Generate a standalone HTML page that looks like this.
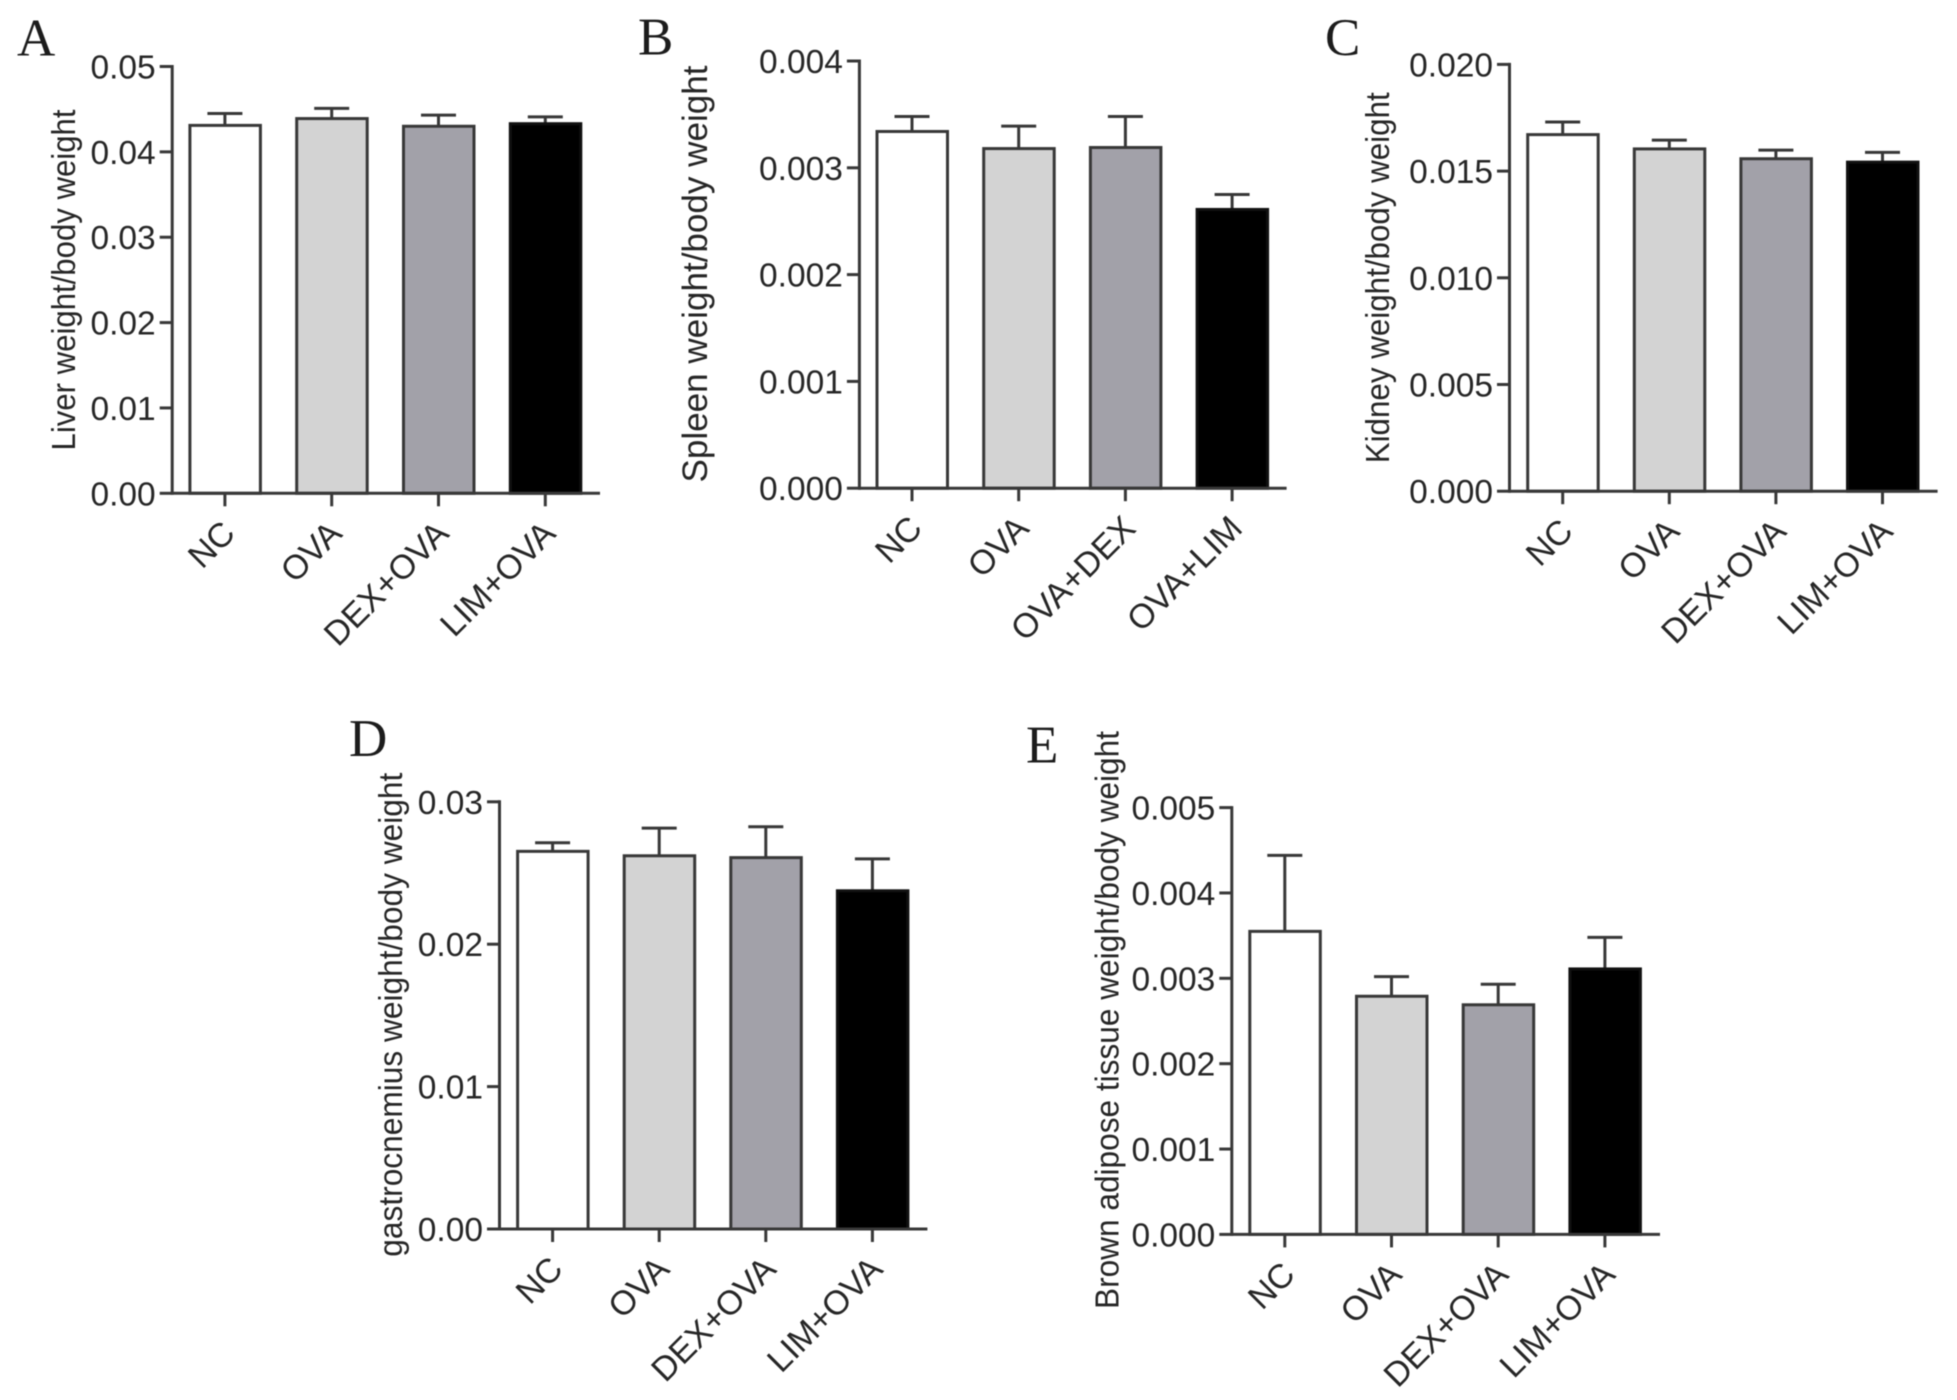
<!DOCTYPE html>
<html lang="en">
<head>
<meta charset="utf-8">
<title>Organ weight to body weight ratios</title>
<style>
  html, body { margin: 0; padding: 0; background: #fff; }
  #figure { display: block; width: 1957px; height: 1400px; filter: blur(0.6px); }
  text { font-family: "Liberation Sans", sans-serif; fill: #262626; }
  .panel-letter { font-family: "Liberation Serif", serif; fill: #1c1c1c; font-size: 53px; }
</style>
</head>
<body>
<svg id="figure" xmlns="http://www.w3.org/2000/svg" width="1957" height="1400" viewBox="0 0 1957 1400"></svg>
<script>
const categoriesDexFirst = ["NC", "OVA", "DEX+OVA", "LIM+OVA"];
const categoriesOvaFirst = ["NC", "OVA", "OVA+DEX", "OVA+LIM"];

const liverMeans = [0.0431, 0.0439, 0.0430, 0.0433];
const liverErrors = [0.0014, 0.0012, 0.0013, 0.0008];
const liverTicks = ["0.00", "0.01", "0.02", "0.03", "0.04", "0.05"];

const spleenMeans = [0.00334, 0.00318, 0.00319, 0.00261];
const spleenErrors = [0.00014, 0.00021, 0.00029, 0.00014];
const spleenTicks = ["0.000", "0.001", "0.002", "0.003", "0.004"];

const kidneyMeans = [0.01671, 0.01604, 0.01558, 0.01542];
const kidneyErrors = [0.00059, 0.00041, 0.00040, 0.00046];
const kidneyTicks = ["0.000", "0.005", "0.010", "0.015", "0.020"];

const gastrocMeans = [0.02652, 0.02621, 0.02608, 0.02375];
const gastrocErrors = [0.00060, 0.00194, 0.00217, 0.00224];
const gastrocTicks = ["0.00", "0.01", "0.02", "0.03"];

const brownMeans = [0.00355, 0.00279, 0.00269, 0.00311];
const brownErrors = [0.00089, 0.00023, 0.00024, 0.00037];
const brownTicks = ["0.000", "0.001", "0.002", "0.003", "0.004", "0.005"];

const barFills = ["#ffffff", "#d3d3d3", "#a2a1a9", "#000000"];

const svg = document.getElementById("figure");
const NS = "http://www.w3.org/2000/svg";
const INK = "#383838";

function shape(tag, attrs, parent) {
  const el = document.createElementNS(NS, tag);
  for (const k in attrs) el.setAttribute(k, attrs[k]);
  parent.appendChild(el);
  return el;
}

function drawPanel(p) {
  const g = shape("g", {}, svg);
  
  

  const yMax = parseFloat(p.ticks[p.ticks.length - 1]);
  const yScale = v => p.base - (v / yMax) * (p.base - p.top);
  const xScale = i => p.firstX + i * p.stepX;

  const letter = shape("text", { x: p.letterX, y: p.letterY, class: "panel-letter" }, g);
  letter.textContent = p.letter;
  
  

  const title = shape("text", {
    transform: "translate(" + p.titleX + "," + p.titleY + ") rotate(-90)",
    "text-anchor": "middle",
    "font-size": p.titleSize,
    textLength: p.titleLength,
    lengthAdjust: "spacingAndGlyphs"
  }, g);
  title.textContent = p.title;
  
  

  p.means.forEach((m, i) => {
    const cx = xScale(i);
    const topY = yScale(m + p.errors[i]);
    const stem = shape("line", { x1: cx, x2: cx, y1: yScale(m), y2: topY, stroke: INK, "stroke-width": 3 }, g);
    
    
    const cap = shape("line", { x1: cx - 17.5, x2: cx + 17.5, y1: topY, y2: topY, stroke: INK, "stroke-width": 3 }, g);
    
    
    const bar = shape("rect", {
      x: cx - 35, y: yScale(m), width: 70.5, height: p.base - yScale(m),
      fill: barFills[i], stroke: i === 3 ? "#111" : INK, "stroke-width": 3
    }, g);
    
    
  });

  const yAxis = shape("line", { x1: p.axisX, x2: p.axisX, y1: p.top - 1.5, y2: p.base + 1.5, stroke: INK, "stroke-width": 3 }, g);
  
  
  const xAxis = shape("line", { x1: p.axisX, x2: p.endX, y1: p.base, y2: p.base, stroke: INK, "stroke-width": 3 }, g);
  
  

  p.ticks.forEach(label => {
    const y = yScale(parseFloat(label));
    const tick = shape("line", { x1: p.axisX - 12.5, x2: p.axisX, y1: y, y2: y, stroke: INK, "stroke-width": 3 }, g);
    
    
    const text = shape("text", { x: p.axisX - 16.5, y: y + 12, "text-anchor": "end", "font-size": 33.5 }, g);
    text.textContent = label;
    
    
  });

  p.categories.forEach((label, i) => {
    const x = xScale(i);
    const tick = shape("line", { x1: x, x2: x, y1: p.base, y2: p.base + 13, stroke: INK, "stroke-width": 3 }, g);
    
    
    const text = shape("text", {
      transform: "translate(" + (x + 12) + "," + (p.base + 42) + ") rotate(-45)",
      "text-anchor": "end",
      "font-size": 34
    }, g);
    text.textContent = label;
    
    
  });
}

drawPanel({
  letter: "A", letterX: 17, letterY: 55.5,
  title: "Liver weight/body weight", titleX: 75, titleY: 280, titleSize: 33, titleLength: 341,
  axisX: 172.2, endX: 600, top: 66.5, base: 493.3, firstX: 224.9, stepX: 106.8,
  categories: categoriesDexFirst, means: liverMeans, errors: liverErrors, ticks: liverTicks
});
drawPanel({
  letter: "B", letterX: 638, letterY: 54.7,
  title: "Spleen weight/body weight", titleX: 707, titleY: 274, titleSize: 35, titleLength: 417,
  axisX: 859.4, endX: 1286.6, top: 61, base: 488.2, firstX: 912, stepX: 106.7,
  categories: categoriesOvaFirst, means: spleenMeans, errors: spleenErrors, ticks: spleenTicks
});
drawPanel({
  letter: "C", letterX: 1325, letterY: 55,
  title: "Kidney weight/body weight", titleX: 1389, titleY: 277.8, titleSize: 33, titleLength: 371,
  axisX: 1509.5, endX: 1937.6, top: 64.4, base: 491.2, firstX: 1562.7, stepX: 106.6,
  categories: categoriesDexFirst, means: kidneyMeans, errors: kidneyErrors, ticks: kidneyTicks
});
drawPanel({
  letter: "D", letterX: 349, letterY: 756,
  title: "gastrocnemius weight/body weight", titleX: 402, titleY: 1014.7, titleSize: 33, titleLength: 484,
  axisX: 499.5, endX: 927.4, top: 801.8, base: 1229, firstX: 552.6, stepX: 106.6,
  categories: categoriesDexFirst, means: gastrocMeans, errors: gastrocErrors, ticks: gastrocTicks
});
drawPanel({
  letter: "E", letterX: 1026, letterY: 762.5,
  title: "Brown adipose tissue weight/body weight", titleX: 1118.6, titleY: 1020, titleSize: 33, titleLength: 578,
  axisX: 1231.8, endX: 1660, top: 807.6, base: 1234.4, firstX: 1284.8, stepX: 106.7,
  categories: categoriesDexFirst, means: brownMeans, errors: brownErrors, ticks: brownTicks
});
</script>
</body>
</html>
